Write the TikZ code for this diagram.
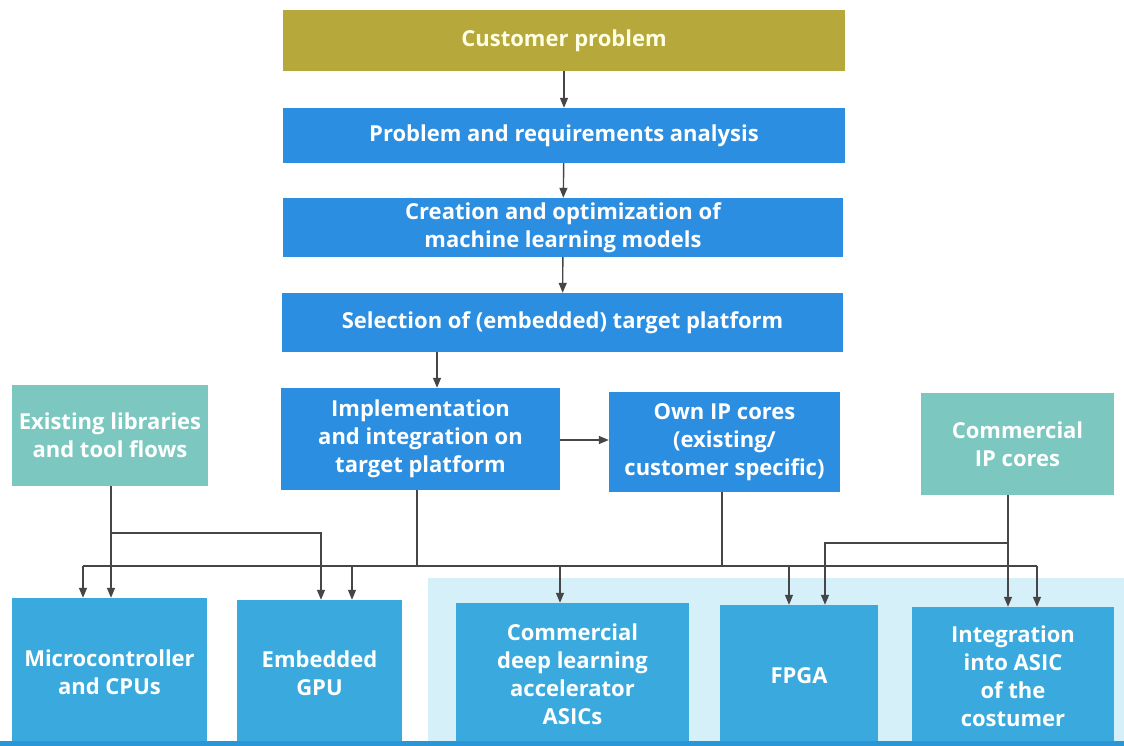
\documentclass[tikz,border=0pt]{standalone}
\usepackage{fontspec}
\setmainfont{Open Sans}
\usetikzlibrary{arrows.meta}
\definecolor{olivebox}{RGB}{182,168,58}
\definecolor{bluebox}{RGB}{44,142,224}
\definecolor{cyanbox}{RGB}{58,170,222}
\definecolor{tealbox}{RGB}{124,200,192}
\definecolor{lightbg}{RGB}{214,240,250}
\definecolor{strip}{RGB}{40,150,215}
\definecolor{linec}{RGB}{70,70,70}
\tikzset{
  box/.style={rectangle, inner sep=0pt, align=center, text=white, font=\bfseries\fontsize{22}{28}\selectfont},
  topbox/.style={box, fill=olivebox, text=white!90!yellow},
  bbox/.style={box, fill=bluebox},
  cbox/.style={box, fill=cyanbox},
  tbox/.style={box, fill=tealbox},
  conn/.style={draw=linec, line width=1.4pt},
  arr/.style={conn, -{Triangle[length=10pt,width=8pt]}},
}
\begin{document}
\begin{tikzpicture}[x=1pt,y=-1pt]
\useasboundingbox (0,0) rectangle (1124,746);
\fill[white] (0,0) rectangle (1124,746);
\fill[lightbg] (428,578) rectangle (1124,746);
% top chain
\node[topbox, minimum width=562pt, minimum height=61pt] (cust) at (564,40.5) {Customer problem};
\node[bbox, minimum width=562pt, minimum height=55pt] (prob) at (564,135.5) {Problem and requirements analysis};
\node[bbox, minimum width=560pt, minimum height=59pt] (crea) at (563,227.5) {Creation and optimization of\\machine learning models};
\node[bbox, minimum width=561pt, minimum height=59pt] (sel) at (562.5,322.5) {Selection of (embedded) target platform};
% middle row
\node[tbox, minimum width=196pt, minimum height=101pt] (exist) at (110,435.5) {Existing libraries\\and tool flows};
\node[bbox, minimum width=279pt, minimum height=102pt] (impl) at (420.5,439) {Implementation\\and integration on\\target platform};
\node[bbox, minimum width=231pt, minimum height=100pt] (own) at (724.5,442) {Own IP cores\\(existing/\\customer specific)};
\node[tbox, minimum width=193pt, minimum height=102pt] (comm) at (1017.5,444) {Commercial\\IP cores};
% bottom row
\node[cbox, minimum width=195pt, minimum height=148pt] (micro) at (109.5,672) {Microcontroller\\and CPUs};
\node[cbox, minimum width=165pt, minimum height=146pt] (gpu) at (319.5,673) {Embedded\\GPU};
\node[cbox, minimum width=233pt, minimum height=143pt] (cdla) at (572.5,674.5) {Commercial\\deep learning\\accelerator\\ASICs};
\node[cbox, minimum width=158pt, minimum height=141pt] (fpga) at (799,675.5) {FPGA};
\node[cbox, minimum width=202pt, minimum height=139pt] (integ) at (1013,676.5) {Integration\\into ASIC\\of the\\costumer};
\fill[strip] (0,741) rectangle (1124,746);
% chain connectors
\draw[arr] (cust) -- (prob);
\draw[arr] (prob) -- (crea);
\draw[arr] (crea) -- (sel);
\coordinate (selimpl) at (437,352);
\draw[arr] (selimpl) -- (selimpl |- impl.north);
\draw[arr] (impl.east |- 0,440) -- (own.west |- 0,440);
% bus
\coordinate (busL) at (83,566);
\coordinate (busR) at (1037,566);
\coordinate (implx) at (417,566);
\coordinate (ownx) at (722,566);
\draw[conn] (busL) -- (busR);
\draw[conn] (implx |- impl.south) -- (implx);
\draw[conn] (ownx |- own.south) -- (ownx);
\draw[arr] (busL) -- (busL |- micro.north);
\coordinate (g2) at (352,566);
\draw[arr] (g2) -- (g2 |- gpu.north);
\coordinate (c1) at (560,566);
\draw[arr] (c1) -- (c1 |- cdla.north);
\coordinate (f1) at (789,566);
\draw[arr] (f1) -- (f1 |- fpga.north);
\draw[arr] (busR) -- (busR |- integ.north);
% existing libraries
\coordinate (ex) at (111,533);
\coordinate (exg) at (321,533);
\draw[arr] (ex |- exist.south) -- (ex |- micro.north);
\draw[arr] (ex) -- (exg) -- (exg |- gpu.north);
% commercial IP
\coordinate (cm) at (1008,543);
\coordinate (cmf) at (825,543);
\draw[arr] (cm |- comm.south) -- (cm |- integ.north);
\draw[arr] (cm) -- (cmf) -- (cmf |- fpga.north);
\end{tikzpicture}
\end{document}
